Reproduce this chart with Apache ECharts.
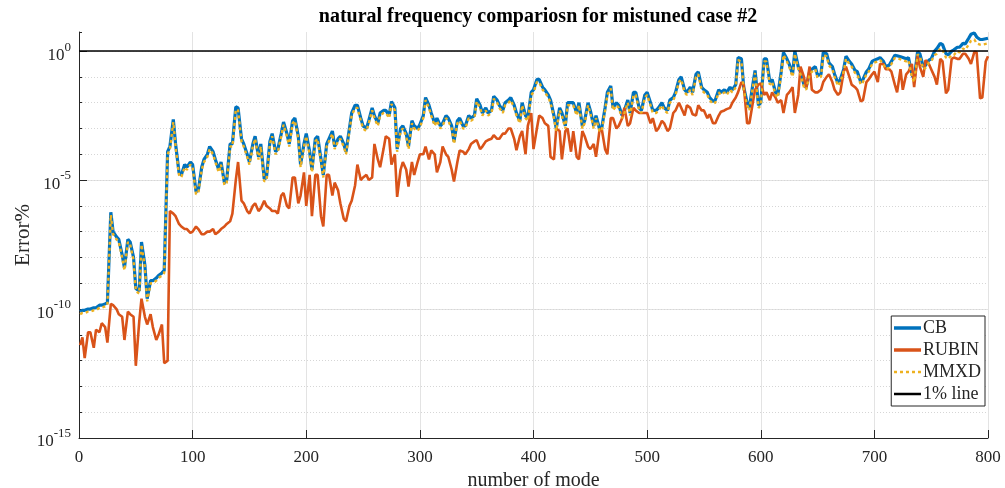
<!DOCTYPE html>
<html><head><meta charset="utf-8">
<script src="https://cdn.jsdelivr.net/npm/echarts@6/dist/echarts.min.js"></script>
<style>html,body{margin:0;padding:0;background:#fff}#c{width:1005px;height:488px}</style>
</head><body><div id="c"></div>
<script>
// mode numbers: main samples (1, 5, 10, ..., 800) and in-between samples (3, 8, ..., 798)
const modes = [1];
for (let m = 5; m <= 800; m += 5) modes.push(m);
const modesMid = [];
for (let m = 3; m <= 798; m += 5) modesMid.push(m);

// log10 of error%
const cbExp = [
-10.1,-10.05,-10.0,-9.95,-9.85,-9.75,-7.0,-7.3,-8.4,-7.4,
-9.2,-7.4,-9.6,-8.9,-8.7,-8.5,-3.7,-3.6,-4.8,-4.5,
-4.4,-5.4,-4.2,-3.7,-4.2,-4.3,-5.0,-3.6,-2.2,-3.6,
-4.3,-3.3,-3.6,-4.9,-3.2,-3.8,-2.75,-3.6,-2.6,-4.4,
-3.2,-4.6,-3.3,-4.8,-3.4,-3.7,-3.3,-3.9,-2.4,-2.1,
-2.9,-2.7,-2.5,-2.4,-2.3,-1.95,-3.8,-2.9,-3.7,-2.9,
-2.85,-1.8,-2.4,-2.6,-2.8,-2.6,-3.5,-2.6,-2.9,-2.6,
-1.85,-2.4,-2.4,-1.75,-2.1,-2.0,-1.8,-2.4,-2.0,-2.6,
-1.5,-1.1,-1.5,-1.9,-3.0,-2.4,-2.0,-2.0,-2.0,-2.7,
-2.3,-2.5,-3.0,-1.6,-2.2,-2.1,-2.3,-2.4,-1.6,-2.3,
-1.6,-2.3,-2.2,-2.2,-1.9,-1.6,-1.0,-1.6,-1.6,-0.8,
-1.5,-1.8,-1.9,-1.6,-1.6,-1.5,-0.25,-1.4,-2.2,-0.75,
-2.0,-0.3,-1.1,-1.7,-0.05,-0.5,0.0,-0.8,-1.4,-0.7,
-0.95,-0.05,-0.45,-0.9,-1.1,-0.2,-0.5,-0.8,-1.1,-0.7,
-0.35,-0.25,-0.6,-0.4,-0.18,-0.25,-0.25,-1.1,-0.1,-0.55,
-0.3,0.1,0.25,-0.15,0.05,0.15,0.28,0.65,0.55,0.45,
0.5
];
const cbExpMid = [
-10.05,-10.0,-9.95,-9.85,-9.8,-6.25,-7.2,-7.9,-7.3,-8.0,
-9.3,-8.3,-8.9,-8.8,-8.6,-3.9,-2.65,-4.7,-4.4,-4.3,
-5.45,-4.5,-4.0,-3.9,-4.6,-5.1,-3.6,-2.16,-3.4,-4.0,
-3.6,-4.1,-4.95,-3.5,-3.9,-3.2,-3.2,-2.7,-3.3,-3.6,
-3.9,-3.4,-4.2,-3.6,-3.1,-3.4,-3.6,-3.0,-2.1,-2.6,
-3.0,-2.2,-2.8,-2.3,-2.5,-2.2,-3.0,-3.2,-2.7,-3.0,
-2.5,-2.1,-2.8,-2.9,-2.5,-2.9,-2.7,-2.9,-2.5,-2.5,
-2.1,-2.2,-2.3,-1.9,-2.3,-1.9,-2.1,-2.7,-2.5,-1.6,
-1.1,-1.4,-1.7,-2.5,-2.2,-2.9,-2.0,-2.4,-2.9,-2.0,
-2.9,-3.0,-2.2,-1.35,-2.0,-2.5,-1.9,-1.6,-2.2,-1.7,
-2.0,-2.3,-2.0,-2.3,-1.8,-1.1,-1.5,-1.4,-0.9,-1.4,
-1.6,-1.95,-1.5,-1.5,-1.4,-1.3,-0.3,-2.0,-1.3,-2.1,
-0.3,-1.2,-1.6,-0.8,-0.3,-0.9,-0.6,-1.3,-0.8,-0.6,
-0.9,-0.1,-0.6,-1.25,-0.7,-0.4,-0.75,-1.2,-0.8,-0.4,
-0.3,-0.4,-0.55,-0.16,-0.22,-0.3,-0.9,-0.03,-0.6,-0.35,
0.0,0.3,-0.1,0.0,0.15,0.3,0.5,0.7,0.45,0.48
];
const rubinExp = [
-11.4,-11.9,-10.9,-10.8,-10.55,-11.3,-9.85,-10.2,-11.2,-10.2,
-12.2,-9.6,-10.6,-10.7,-11.0,-12.1,-6.2,-6.4,-6.8,-6.9,
-7.0,-6.9,-7.1,-7.0,-7.1,-6.9,-6.7,-6.3,-4.3,-5.9,
-6.3,-5.9,-6.1,-6.0,-6.2,-6.3,-5.5,-6.1,-4.9,-5.6,
-6.0,-6.4,-4.8,-6.8,-4.8,-5.1,-5.9,-6.6,-5.8,-4.4,
-4.9,-5.0,-3.6,-4.5,-3.3,-4.4,-5.65,-4.3,-5.25,-4.8,
-4.0,-3.7,-3.85,-4.7,-3.7,-4.1,-5.06,-3.85,-4.0,-3.6,
-3.45,-3.7,-3.45,-3.26,-3.4,-3.2,-3.0,-3.84,-3.1,-2.9,
-3.8,-2.5,-2.8,-4.1,-3.0,-4.2,-3.0,-3.1,-4.2,-3.3,
-3.8,-4.1,-3.0,-4.0,-2.6,-2.9,-2.2,-2.8,-2.3,-2.4,
-2.4,-2.6,-3.0,-2.8,-3.0,-2.3,-2.2,-2.1,-2.45,-2.1,
-2.3,-2.45,-2.8,-2.35,-2.25,-2.0,-1.6,-1.3,-2.8,-1.5,
-1.25,-1.6,-1.6,-2.0,-2.4,-1.6,-2.4,-0.6,-1.45,-1.5,
-1.6,-1.2,-0.9,-1.5,-1.6,-0.6,-1.3,-1.5,-1.9,-1.1,
-0.8,-0.5,-0.7,-0.8,-1.6,-1.5,-0.8,-1.4,-0.6,-0.35,
-0.7,-1.3,-0.4,-1.5,-0.25,-0.3,-0.1,-0.5,-0.05,-1.8,
-0.2
];
const rubinExpMid = [
-11.1,-10.9,-11.5,-10.9,-10.7,-9.8,-10.0,-10.3,-10.1,-10.3,
-10.5,-10.3,-10.2,-11.2,-10.6,-12.0,-6.3,-6.7,-6.9,-7.05,
-6.8,-7.1,-7.0,-6.9,-7.0,-6.8,-6.6,-5.0,-5.8,-6.2,
-6.0,-6.2,-5.8,-6.1,-6.2,-5.6,-6.0,-4.9,-5.9,-4.7,
-4.8,-4.8,-6.4,-4.8,-5.6,-5.4,-6.5,-6.0,-5.2,-5.0,
-4.8,-4.9,-4.2,-3.8,-3.4,-4.0,-4.6,-4.6,-4.3,-4.3,
-4.0,-4.2,-4.0,-4.3,-4.0,-4.6,-4.3,-3.9,-3.8,-3.5,
-3.8,-3.5,-3.4,-3.4,-3.2,-3.0,-3.4,-3.3,-4.0,-2.4,
-3.0,-2.6,-2.9,-4.2,-3.1,-3.1,-3.9,-4.1,-3.1,-3.7,
-3.6,-3.1,-3.8,-2.6,-3.0,-2.6,-2.9,-2.2,-2.4,-2.4,
-2.8,-3.1,-2.7,-3.1,-2.4,-2.0,-2.5,-2.2,-2.5,-2.3,
-2.6,-2.8,-2.5,-2.3,-2.2,-1.8,-1.2,-2.8,-2.0,-1.3,
-1.7,-1.9,-1.8,-1.9,-1.7,-1.4,-1.7,-1.0,-0.6,-1.6,
-1.5,-1.0,-1.2,-1.7,-0.8,-1.0,-1.4,-1.95,-1.2,-0.9,
-1.2,-0.5,-0.7,-1.3,-0.7,-0.9,-0.5,-0.2,-1.0,-0.5,
-1.0,-0.3,-1.64,-0.3,-0.3,-0.1,-0.3,-0.03,-1.83,-0.4
];
const mmxdExp = [
-10.2,-10.15,-10.1,-10.05,-9.95,-9.85,-7.1,-7.4,-8.5,-7.5,
-9.3,-7.5,-9.7,-9.0,-8.8,-8.6,-3.8,-3.7,-4.9,-4.6,
-4.5,-5.5,-4.3,-3.8,-4.3,-4.4,-5.1,-3.7,-2.3,-3.7,
-4.4,-3.4,-3.7,-5.0,-3.3,-3.9,-2.85,-3.7,-2.7,-4.5,
-3.3,-4.7,-3.4,-4.9,-3.5,-3.8,-3.4,-4.0,-2.5,-2.2,
-3.0,-2.8,-2.6,-2.5,-2.4,-2.05,-3.9,-3.0,-3.8,-3.0,
-2.95,-1.9,-2.5,-2.7,-2.9,-2.7,-3.6,-2.7,-3.0,-2.7,
-1.95,-2.5,-2.5,-1.85,-2.2,-2.1,-1.9,-2.5,-2.1,-2.7,
-1.6,-1.2,-1.6,-2.0,-3.1,-2.5,-2.1,-2.1,-2.1,-2.8,
-2.4,-2.6,-3.1,-1.7,-2.3,-2.2,-2.4,-2.5,-1.7,-2.4,
-1.7,-2.4,-2.3,-2.3,-2.0,-1.7,-1.1,-1.7,-1.7,-0.9,
-1.6,-1.9,-2.0,-1.7,-1.7,-1.6,-0.35,-1.5,-2.3,-0.85,
-2.1,-0.4,-1.2,-1.8,-0.15,-0.6,-0.1,-0.9,-1.5,-0.8,
-1.05,-0.15,-0.55,-1.0,-1.2,-0.3,-0.6,-0.9,-1.2,-0.8,
-0.45,-0.35,-0.7,-0.5,-0.28,-0.35,-0.35,-1.2,-0.2,-0.65,
-0.4,-0.1,0.05,-0.3,-0.15,-0.05,0.05,0.4,0.3,0.25,
0.3
];
const mmxdExpMid = [
-10.15,-10.1,-10.05,-9.95,-9.9,-6.35,-7.3,-8.0,-7.4,-8.1,
-9.4,-8.4,-9.0,-8.9,-8.7,-4.0,-2.75,-4.8,-4.5,-4.4,
-5.55,-4.6,-4.1,-4.0,-4.7,-5.2,-3.7,-2.26,-3.5,-4.1,
-3.7,-4.2,-5.05,-3.6,-4.0,-3.3,-3.3,-2.8,-3.4,-3.7,
-4.0,-3.5,-4.3,-3.7,-3.2,-3.5,-3.7,-3.1,-2.2,-2.7,
-3.1,-2.3,-2.9,-2.4,-2.6,-2.3,-3.1,-3.3,-2.8,-3.1,
-2.6,-2.2,-2.9,-3.0,-2.6,-3.0,-2.8,-3.0,-2.6,-2.6,
-2.2,-2.3,-2.4,-2.0,-2.4,-2.0,-2.2,-2.8,-2.6,-1.7,
-1.2,-1.5,-1.8,-2.6,-2.3,-3.0,-2.1,-2.5,-3.0,-2.1,
-3.0,-3.1,-2.3,-1.45,-2.1,-2.6,-2.0,-1.7,-2.3,-1.8,
-2.1,-2.4,-2.1,-2.4,-1.9,-1.2,-1.6,-1.5,-1.0,-1.5,
-1.7,-2.05,-1.6,-1.6,-1.5,-1.4,-0.4,-2.1,-1.4,-2.2,
-0.4,-1.3,-1.7,-0.9,-0.4,-1.0,-0.7,-1.4,-0.9,-0.7,
-1.0,-0.2,-0.7,-1.35,-0.8,-0.5,-0.85,-1.3,-0.9,-0.5,
-0.4,-0.5,-0.65,-0.26,-0.32,-0.4,-1.0,-0.13,-0.7,-0.45,
-0.15,0.1,-0.25,-0.15,0.0,0.1,0.25,0.45,0.25,0.28
];
const refX = [0, 800];
const refY = [1, 1];

const FONT = 'Liberation Serif';
const TXT = '#262626';
function toPts(main, mid) {
  const p = [];
  modes.forEach((m, i) => p.push([m, Math.pow(10, main[i])]));
  modesMid.forEach((m, i) => p.push([m, Math.pow(10, mid[i])]));
  p.sort((a, b) => a[0] - b[0]);
  return p;
}

const chart = echarts.init(document.getElementById('c'), null, {renderer: 'canvas'});
chart.setOption({
  animation: false,
  backgroundColor: '#fff',
  title: {
    text: 'natural frequency compariosn for mistuned case #2',
    left: 533, top: 2, textAlign: 'center',
    textStyle: {fontFamily: FONT, fontWeight: 'bold', fontSize: 20, color: '#000'}
  },
  grid: {left: 79, right: 17, top: 32, bottom: 50, containLabel: false, outerBoundsMode: 'none'},
  legend: {
    orient: 'vertical', right: 20, top: 316,
    backgroundColor: '#fff', borderColor: TXT, borderWidth: 1, borderRadius: 0,
    padding: [3, 4, 3, 1], itemGap: 4, itemWidth: 27, itemHeight: 14,
    itemStyle: {opacity: 0},
    textStyle: {fontFamily: FONT, fontSize: 18, lineHeight: 18, color: TXT, padding: [0, 0, 0, -3]},
    data: [
      {name: 'CB', lineStyle: {width: 3.5}},
      {name: 'RUBIN', lineStyle: {width: 3.5}},
      {name: 'MMXD', lineStyle: {width: 2.5}},
      {name: '1% line', lineStyle: {width: 2.5}}
    ]
  },
  xAxis: {
    type: 'value', min: 0, max: 800, interval: 100,
    name: 'number of mode', nameLocation: 'middle', nameGap: 33, nameMoveOverlap: false,
    nameTextStyle: {fontFamily: FONT, fontSize: 20, color: TXT},
    axisLine: {lineStyle: {color: TXT, width: 1}},
    axisTick: {inside: true, length: 8, lineStyle: {color: TXT}},
    axisLabel: {fontFamily: FONT, fontSize: 17, color: TXT, margin: 11},
    splitLine: {show: true, lineStyle: {color: '#e3e3e3', width: 1}}
  },
  yAxis: [{
    type: 'log', logBase: 10, min: 1e-15, max: 5.5, interval: 5,
    name: 'Error%', nameLocation: 'middle', nameGap: 45, nameMoveOverlap: false,
    nameTextStyle: {fontFamily: FONT, fontSize: 21, color: TXT},
    axisLine: {show: true, lineStyle: {color: TXT, width: 1}},
    axisTick: {inside: true, length: 8, lineStyle: {color: TXT}},
    axisLabel: {
      margin: 8, showMaxLabel: false,
      formatter: function (v) {
        const l = Math.log10(v); const e = Math.round(l);
        if (Math.abs(l - e) > 0.01 || e % 5 !== 0) return '';
        return '{b|10}{s|' + e + '}';
      },
      rich: {
        b: {fontFamily: FONT, fontSize: 17, color: TXT, padding: [8, 0, 0, 0]},
        s: {fontFamily: FONT, fontSize: 13, color: TXT, padding: [0, 0, 8, 0]}
      }
    },
    splitLine: {show: true, showMaxLine: false, lineStyle: {color: '#e3e3e3', width: 1}}
  }, {
    type: 'log', logBase: 10, min: 1e-15, max: 5.5, interval: 1, position: 'left',
    axisLine: {show: false},
    axisTick: {show: true, inside: true, length: 3, lineStyle: {color: TXT}},
    axisLabel: {show: false},
    splitLine: {show: true, showMaxLine: false, lineStyle: {color: '#d6d6d6', width: 1, type: [1, 2]}}
  }],
  series: [
    {name: 'CB', type: 'line', data: toPts(cbExp, cbExpMid), symbol: 'none', z: 2,
     lineStyle: {color: '#0072BD', width: 3.2}, itemStyle: {color: '#0072BD', opacity: 0}},
    {name: 'RUBIN', type: 'line', data: toPts(rubinExp, rubinExpMid), symbol: 'none', z: 3,
     lineStyle: {color: '#D95319', width: 2.6}, itemStyle: {color: '#D95319', opacity: 0}},
    {name: 'MMXD', type: 'line', data: toPts(mmxdExp, mmxdExpMid), symbol: 'none', z: 4,
     lineStyle: {color: '#EDB120', width: 2.4, type: [3, 3]}, itemStyle: {color: '#EDB120', opacity: 0}},
    {name: '1% line', type: 'line', data: refX.map((x, i) => [x, refY[i]]), symbol: 'none', z: 5,
     lineStyle: {color: '#000', width: 1.5}, itemStyle: {color: '#000', opacity: 0}}
  ]
});
</script></body></html>
